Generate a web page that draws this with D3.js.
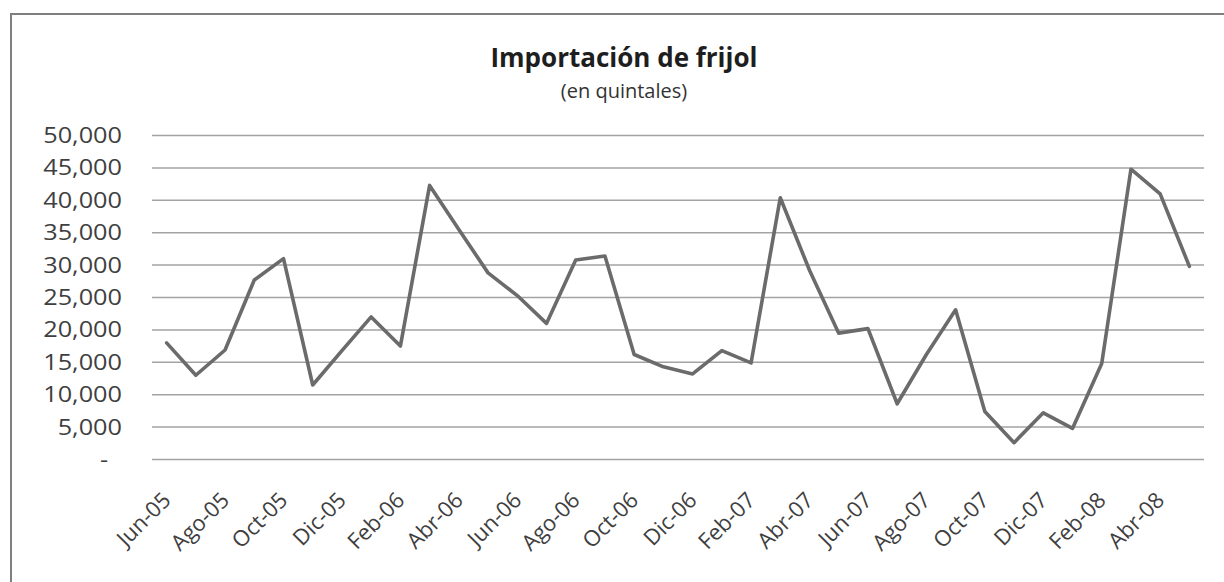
<!DOCTYPE html>
<html>
<head>
<meta charset="utf-8">
<script src="https://cdn.jsdelivr.net/npm/d3@7"></script>
<style>
  html, body { margin: 0; padding: 0; background: #fff; }
  svg { display: block; }
</style>
</head>
<body>
<svg id="chart" width="1224" height="582"></svg>
<script>
// ---- Data ----
const categories = [
  "Jun-05","Jul-05","Ago-05","Sep-05","Oct-05","Nov-05","Dic-05",
  "Ene-06","Feb-06","Mar-06","Abr-06","May-06","Jun-06","Jul-06","Ago-06","Sep-06","Oct-06","Nov-06","Dic-06",
  "Ene-07","Feb-07","Mar-07","Abr-07","May-07","Jun-07","Jul-07","Ago-07","Sep-07","Oct-07","Nov-07","Dic-07",
  "Ene-08","Feb-08","Mar-08","Abr-08","May-08"
];
const values = [
  18000, 13000, 16900, 27700, 31000, 11500, 16800,
  22000, 17500, 42300, 35500, 28800, 25300, 21000, 30800, 31400, 16200, 14300, 13200,
  16800, 14900, 40400, 29200, 19500, 20200, 8600, 16200, 23100, 7400, 2600, 7200,
  4800, 14800, 44800, 41000, 29800
];
const xTickLabels = ["Jun-05","Ago-05","Oct-05","Dic-05","Feb-06","Abr-06","Jun-06","Ago-06","Oct-06",
  "Dic-06","Feb-07","Abr-07","Jun-07","Ago-07","Oct-07","Dic-07","Feb-08","Abr-08"];
const yTicks = [0, 5000, 10000, 15000, 20000, 25000, 30000, 35000, 40000, 45000, 50000];
const title = "Importación de frijol";
const subtitle = "(en quintales)";

// ---- Layout ----
const svg = d3.select("#chart");
const plot = { left: 152, right: 1204, top: 135.5, bottom: 459.5 };

svg.append("rect").attr("x", 0).attr("y", 0).attr("width", 1224).attr("height", 582).attr("fill", "#fff");
svg.append("rect")
  .attr("x", 11).attr("y", 14).attr("width", 1240).attr("height", 600)
  .attr("fill", "none").attr("stroke", "#7f7f7f").attr("stroke-width", 2);

const x = d3.scalePoint().domain(categories).range([plot.left, plot.right]).padding(0.5);
const y = d3.scaleLinear().domain([0, 50000]).range([plot.bottom, plot.top]);

const font = "'Open Sans', 'Noto Sans', sans-serif";

// gridlines
svg.append("g").selectAll("line").data(yTicks).join("line")
  .attr("x1", plot.left).attr("x2", plot.right)
  .attr("y1", d => y(d)).attr("y2", d => y(d))
  .attr("stroke", "#a3a3a3").attr("stroke-width", 1.5);

// y axis labels
const yAxis = d3.axisLeft(y).tickValues(yTicks).tickSize(0).tickPadding(0)
  .tickFormat(d => d === 0 ? "-" : d3.format(",")(d));
const gy = svg.append("g").attr("transform", "translate(122,0) scale(1.15,1)").call(yAxis);
gy.select(".domain").remove();
gy.selectAll("text")
  .attr("font-family", font).attr("font-size", 22).attr("fill", "#3f3f3f")
  .attr("dx", d => d === 0 ? -12 : 0);

// x axis labels
const xAxis = d3.axisBottom(x).tickValues(xTickLabels).tickSize(0).tickPadding(0);
const gx = svg.append("g").attr("transform", `translate(0,${plot.bottom})`).call(xAxis);
gx.select(".domain").remove();
gx.selectAll(".tick text")
  .attr("font-family", font).attr("font-size", 22).attr("fill", "#3f3f3f")
  .attr("text-anchor", "end").attr("dy", 0).attr("y", 0)
  .attr("transform", "translate(5,42) rotate(-45)");

// line
const line = d3.line().x((d, i) => x(categories[i])).y(d => y(d));
svg.append("path").datum(values)
  .attr("d", line).attr("fill", "none")
  .attr("stroke", "#6b6b6b").attr("stroke-width", 3.6)
  .attr("stroke-linejoin", "round").attr("stroke-linecap", "round");

// titles
svg.append("text").attr("x", 624).attr("y", 67).attr("text-anchor", "middle")
  .attr("font-family", font).attr("font-size", 26).attr("font-weight", "bold").attr("fill", "#1e1e1e")
  .text(title);
svg.append("text").attr("x", 624).attr("y", 98).attr("text-anchor", "middle")
  .attr("font-family", font).attr("font-size", 20).attr("fill", "#333")
  .text(subtitle);
</script>
</body>
</html>
